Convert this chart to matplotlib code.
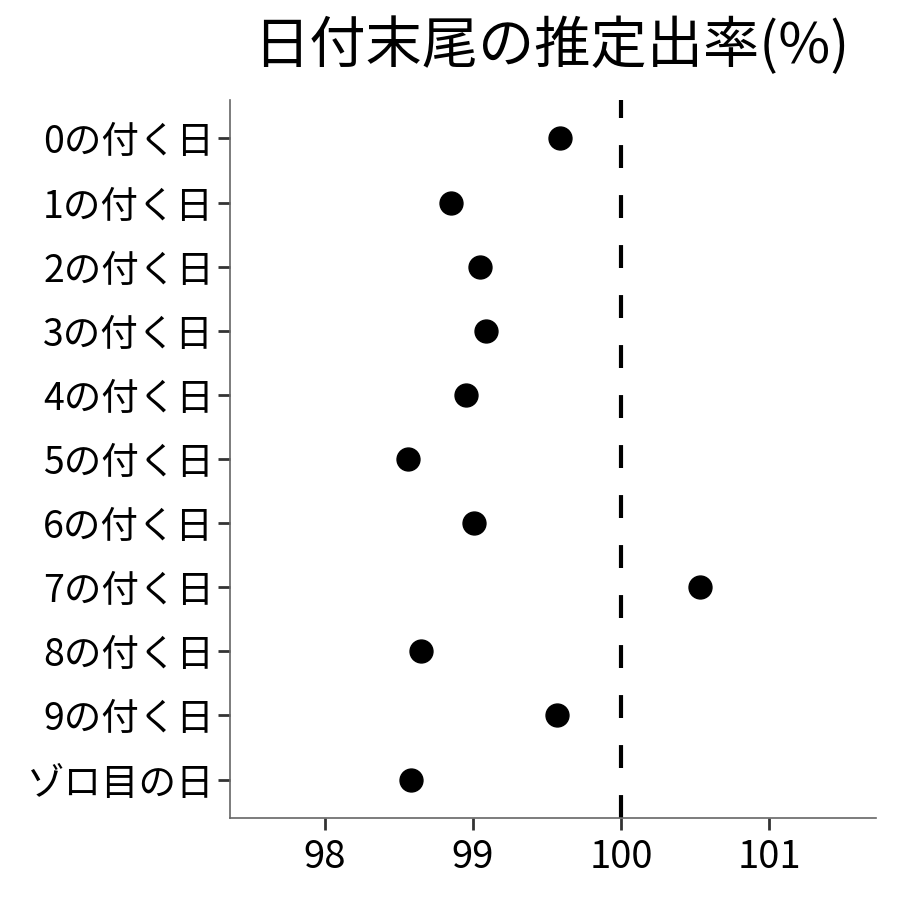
import matplotlib
matplotlib.use("Agg")
import matplotlib.pyplot as plt

plt.rcParams['font.family'] = ['Noto Sans CJK JP', 'DejaVu Sans']

# データ
labels = ['0の付く日', '1の付く日', '2の付く日', '3の付く日', '4の付く日',
          '5の付く日', '6の付く日', '7の付く日', '8の付く日', '9の付く日',
          'ゾロ目の日']
rates = [99.59, 98.85, 99.05, 99.09, 98.95, 98.56, 99.01, 100.53, 98.65, 99.57, 98.58]
xticks = [98, 99, 100, 101]
ref_line = 100

fig = plt.figure(figsize=(9, 9), dpi=100)
ax = fig.add_axes([0.2556, 0.0911, 0.7177, 0.7978])

ypos = list(range(len(labels)))
ax.axvline(ref_line, color='black', lw=3, linestyle=(0, (5.5, 6.5)), zorder=1)
ax.plot(rates, ypos, 'o', color='black', markersize=16.5, zorder=3)

ax.set_yticks(ypos)
ax.set_yticklabels(labels, fontsize=27)
ax.set_xticks(xticks)
ax.set_xticklabels([str(v) for v in xticks], fontsize=27.5)
ax.set_xlim(97.36, 101.72)
ax.set_ylim(10.6, -0.6)

for s in ['top', 'right']:
    ax.spines[s].set_visible(False)
for s in ['left', 'bottom']:
    ax.spines[s].set_color('#666666')
    ax.spines[s].set_linewidth(1.2)
ax.tick_params(axis='both', length=8.5, width=2, color='#333333', labelcolor='black')
ax.tick_params(axis='x', pad=6)
ax.tick_params(axis='y', pad=3)

fig.suptitle('日付末尾の推定出率(%)', fontsize=40.5, x=0.613, y=0.98)

fig.savefig('out.png', dpi=100, facecolor='white')
